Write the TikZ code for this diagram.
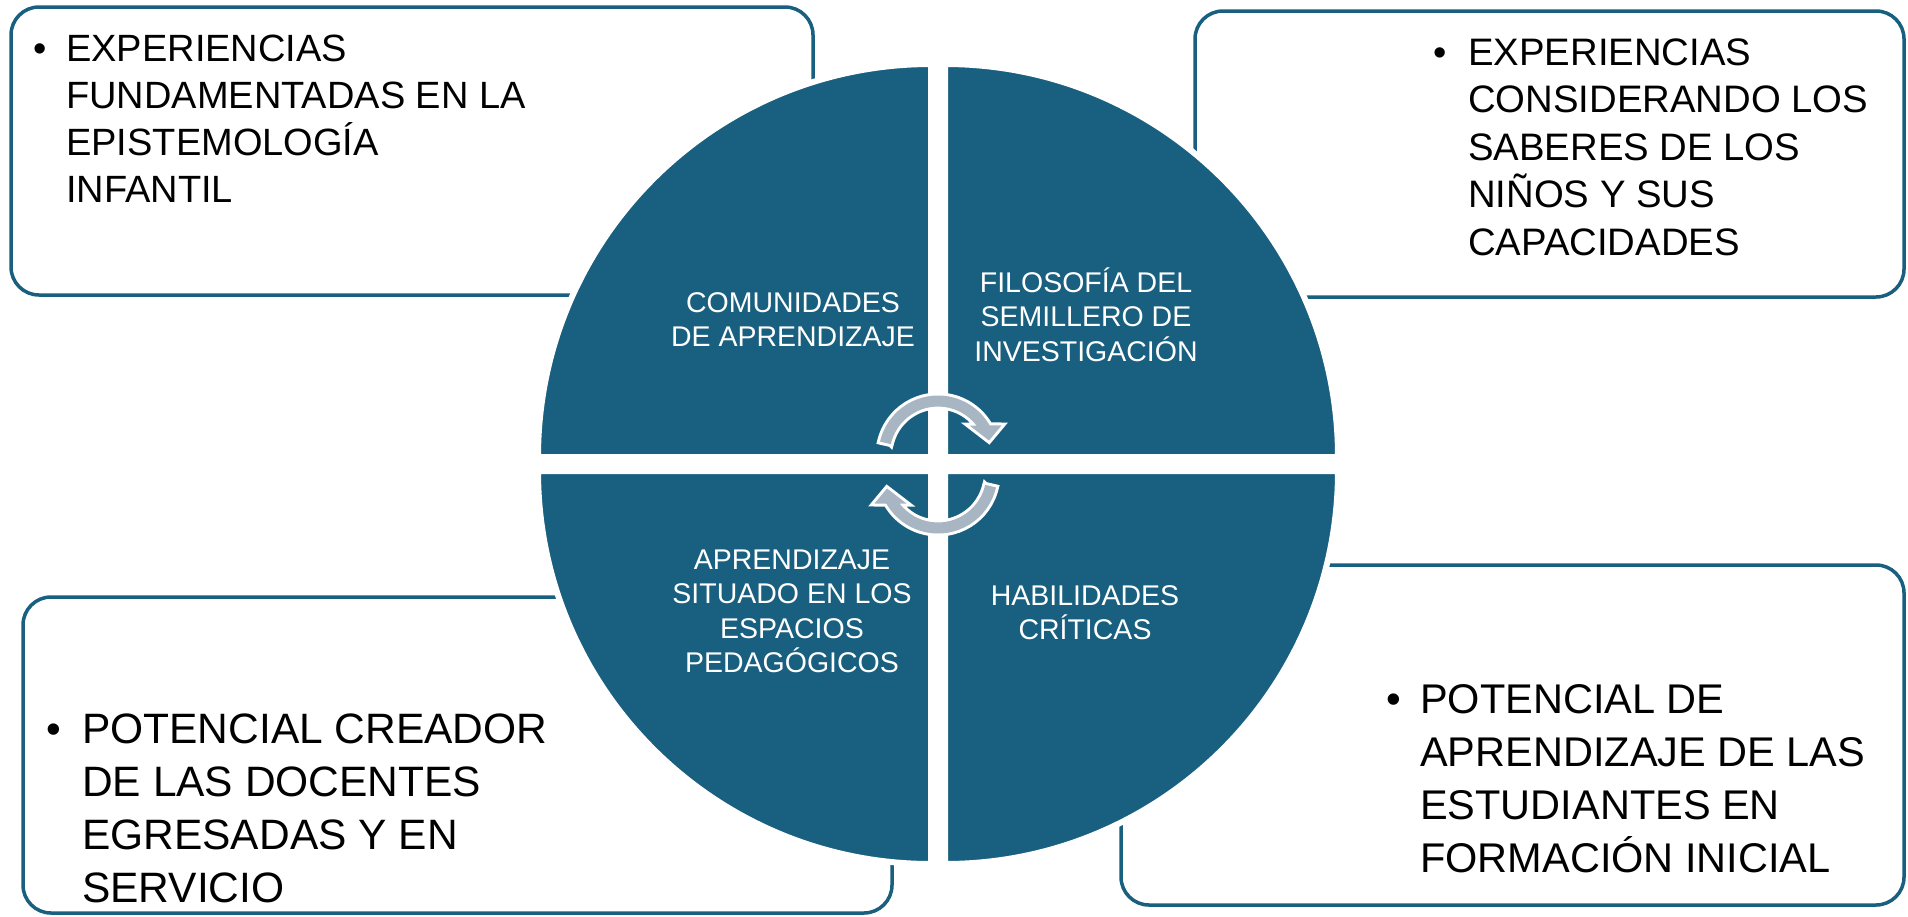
\documentclass[tikz,border=0pt]{standalone}
\usepackage{fontspec}
\setmainfont{Liberation Sans}
\definecolor{tealc}{RGB}{25,95,128}
\definecolor{arrowgray}{RGB}{168,181,194}
\begin{document}
\begin{tikzpicture}[x=1pt,y=-1pt,
  outerbox/.style={draw=tealc, line width=3.5pt, rounded corners=28pt, fill=white},
  quad/.style={fill=tealc, draw=white, line width=6pt},
  boxtxt/.style={anchor=north west, align=left, inner sep=0pt, text=black},
  bul/.style={anchor=base, inner sep=0pt, text=black},
  qtxt/.style={anchor=north, align=center, inner sep=0pt, text=white,
    font=\fontsize{28.5}{34.5}\selectfont},
  arrowout/.style={draw=white, fill=white, line width=6pt, line join=miter},
  arrowin/.style={fill=arrowgray}]
\useasboundingbox (0,0) rectangle (1908,916);
\fill[white] (0,0) rectangle (1908,916);

% outer boxes
\draw[outerbox] (11,7) rectangle (813,295);
\draw[outerbox] (1195,11) rectangle (1904,297);
\draw[outerbox] (23,597) rectangle (892,913);
\draw[outerbox] (1121,565) rectangle (1904,905);

% box texts
\node[bul, font=\fontsize{38}{47}\selectfont] (b1) at (40,61) {•};
\node[boxtxt, font=\fontsize{38}{47}\selectfont] (t1) at (66,23)
  {\rule{0pt}{38pt}EXPERIENCIAS\\FUNDAMENTADAS EN LA\\EPISTEMOLOGÍA\\INFANTIL};
\node[bul, font=\fontsize{38}{47}\selectfont] (b2) at (1440,65) {•};
\node[boxtxt, font=\fontsize{38.3}{47.5}\selectfont] (t2) at (1468,27)
  {\rule{0pt}{38pt}EXPERIENCIAS\\CONSIDERANDO LOS\\SABERES DE LOS\\NIÑOS Y SUS\\CAPACIDADES};
\node[bul, font=\fontsize{42}{53}\selectfont] (b3) at (54,743) {•};
\node[boxtxt, font=\fontsize{42.5}{53}\selectfont] (t3) at (82,701)
  {\rule{0pt}{42pt}POTENCIAL CREADOR\\DE LAS DOCENTES\\EGRESADAS Y EN\\SERVICIO};
\node[bul, font=\fontsize{42}{53}\selectfont] (b4) at (1394,713) {•};
\node[boxtxt, font=\fontsize{41.5}{53}\selectfont] (t4) at (1420,671)
  {\rule{0pt}{42pt}POTENCIAL DE\\APRENDIZAJE DE LAS\\ESTUDIANTES EN\\FORMACIÓN INICIAL};

% quadrants
\begin{scope}[shift={(938,464)}, yscale=-1]
  \draw[quad] (7,7) -- ++(0:393) arc[start angle=0, end angle=90, radius=393] -- cycle;
  \draw[quad] (-7,7) -- ++(90:393) arc[start angle=90, end angle=180, radius=393] -- cycle;
  \draw[quad] (-7,-7) -- ++(180:393) arc[start angle=180, end angle=270, radius=393] -- cycle;
  \draw[quad] (7,-7) -- ++(270:393) arc[start angle=270, end angle=360, radius=393] -- cycle;
\end{scope}

% quadrant labels
\node[qtxt] (q1) at (793,283.5) {\rule{0pt}{28.5pt}COMUNIDADES\\DE APRENDIZAJE};
\node[qtxt] (q2) at (1086,263.5) {\rule{0pt}{28.5pt}FILOSOFÍA DEL\\SEMILLERO DE\\INVESTIGACIÓN};
\node[qtxt] (q3) at (792,540.5) {\rule{0pt}{28.5pt}APRENDIZAJE\\SITUADO EN LOS\\ESPACIOS\\PEDAGÓGICOS};
\node[qtxt] (q4) at (1085,576.5) {\rule{0pt}{28.5pt}HABILIDADES\\CRÍTICAS};

% circular arrows
\begin{scope}[shift={(938,455)}, yscale=-1]
  \path[arrowout] (167:48.5) -- (167:59.5) arc[start angle=167, end angle=30, radius=59.5]
    -- (63.5,29.5) -- (51,14.5) -- (31.5,29.5) -- (38.5,29.5)
    arc[start angle=37.5, end angle=167, radius=48.5] -- cycle;
  \path[arrowin] (167:48.5) -- (167:59.5) arc[start angle=167, end angle=30, radius=59.5]
    -- (63.5,29.5) -- (51,14.5) -- (31.5,29.5) -- (38.5,29.5)
    arc[start angle=37.5, end angle=167, radius=48.5] -- cycle;
\end{scope}
\begin{scope}[shift={(938,474)}, yscale=-1, rotate=180]
  \path[arrowout] (167:48.5) -- (167:59.5) arc[start angle=167, end angle=30, radius=59.5]
    -- (63.5,29.5) -- (51,14.5) -- (31.5,29.5) -- (38.5,29.5)
    arc[start angle=37.5, end angle=167, radius=48.5] -- cycle;
  \path[arrowin] (167:48.5) -- (167:59.5) arc[start angle=167, end angle=30, radius=59.5]
    -- (63.5,29.5) -- (51,14.5) -- (31.5,29.5) -- (38.5,29.5)
    arc[start angle=37.5, end angle=167, radius=48.5] -- cycle;
\end{scope}
\end{tikzpicture}
\end{document}
